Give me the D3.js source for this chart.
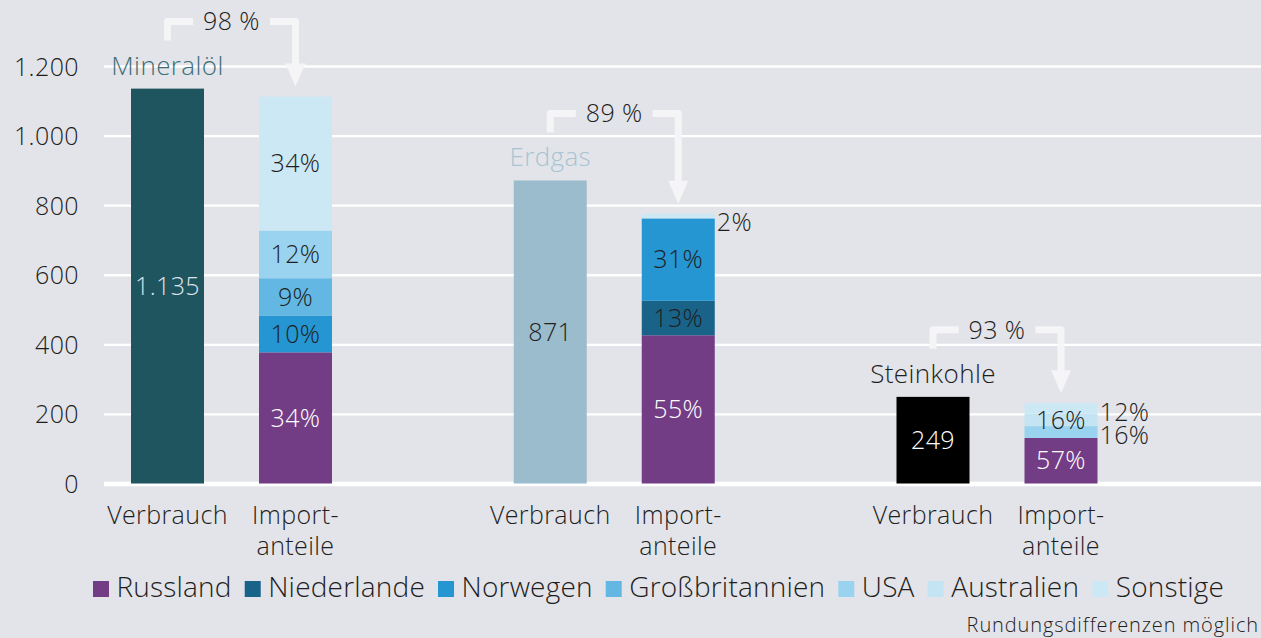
<!DOCTYPE html>
<html>
<head>
<meta charset="utf-8">
<script src="https://cdn.jsdelivr.net/npm/d3@7/dist/d3.min.js"></script>
<style>
  body { margin: 0; background: #e3e4e9; }
  svg { display: block; font-family: "Open Sans", "Lato", sans-serif; font-weight: 300; letter-spacing: 0.4px; }
</style>
</head>
<body>
<div id="chart"></div>
<script>
// Energy categories and their consumption (Verbrauch)
var categories = ["Mineralöl", "Erdgas", "Steinkohle"];
var verbrauch = [1135, 871, 249];
var importShare = ["98 %", "89 %", "93 %"];
var subLabels = ["Verbrauch", "Import-\nanteile"];

// Import origin countries
var countries = ["Russland", "Niederlande", "Norwegen", "Großbritannien", "USA", "Australien", "Sonstige"];
var countryColors = ["#733d86", "#196389", "#2596d2", "#62b8e3", "#9ad3ef", "#c4e4f3", "#cde8f5"];

// Import amounts per country, same order as countries
var importOel = [377, 0, 106, 107, 137, 0, 385];
var importGas = [426, 99, 237, 0, 0, 0, 13];
var importKohle = [131, 0, 0, 0, 34, 36, 30];

// Percent labels per segment
var labelsOel = ["34%", "", "10%", "9%", "12%", "", "34%"];
var labelsGas = ["55%", "13%", "31%", "", "", "", "2%"];
var labelsKohle = ["57%", "", "", "", "16%", "16%", "12%"];

// segments whose label sits right of the bar: [category index, country index]
var outsideLabels = [[1, 6], [2, 4], [2, 6]];

var yTicks = [0, 200, 400, 600, 800, 1000, 1200];

var width = 1261, height = 638;

var catColors = ["#1e555e", "#9bbccc", "#000000"];
var catTitleColors = ["#3d6e75", "#a7c4d2", "#1e1e1e"];
var valueTextColors = ["#dde3ea", "#222222", "#ffffff"];
var textColor = "#1e1e1e";
var fs = "25px";

var de = d3.formatLocale({ decimal: ",", thousands: ".", grouping: [3], currency: ["", " €"] });
var fmt = de.format(",");

var svg = d3.select("#chart").append("svg")
    .attr("width", width)
    .attr("height", height);

svg.append("rect").attr("width", width).attr("height", height).attr("fill", "#e3e4e9");

var y = d3.scaleLinear().domain([0, 1200]).range([483.5, 66]);
var x0 = d3.scalePoint().domain(categories).range([231.5, 997]);
var x1 = d3.scalePoint().domain(["v", "i"]).range([-64, 64]);
var barW = 73;

// y axis with gridlines
var axisX = 104;
var yAxis = svg.append("g")
    .attr("transform", "translate(" + axisX + ",0)")
    .call(d3.axisLeft(y).tickValues(yTicks).tickFormat(fmt)
      .tickSize(-(width - axisX)).tickPadding(25));
yAxis.attr("font-family", null).attr("font-size", null);
yAxis.select(".domain").remove();
yAxis.selectAll(".tick line")
    .attr("stroke", "#ffffff")
    .attr("stroke-width", function(d) { return d === 0 ? 4.5 : 2.3; });
yAxis.selectAll(".tick text")
    .attr("fill", textColor)
    .style("font-size", fs)
    .attr("dy", "0.36em");

var imports = [importOel, importGas, importKohle];
var labels = [labelsOel, labelsGas, labelsKohle];

function isOutside(ci, k) {
  return outsideLabels.some(function(p) { return p[0] === ci && p[1] === k; });
}

categories.forEach(function(cat, ci) {
  var cx = x0(cat);
  var vx = cx + x1("v");
  var ix = cx + x1("i");
  var g = svg.append("g");

  // Verbrauch bar
  g.append("rect")
      .attr("x", vx - barW / 2)
      .attr("y", y(verbrauch[ci]))
      .attr("width", barW)
      .attr("height", y(0) - y(verbrauch[ci]))
      .attr("fill", catColors[ci]);

  g.append("text")
      .attr("x", vx)
      .attr("y", (y(0) + y(verbrauch[ci])) / 2)
      .attr("dy", "0.35em")
      .attr("text-anchor", "middle")
      .attr("fill", valueTextColors[ci])
      .style("font-size", fs)
      .text(fmt(verbrauch[ci]));

  // category title above bar
  g.append("text")
      .attr("x", vx)
      .attr("y", y(verbrauch[ci]) - 14)
      .attr("text-anchor", "middle")
      .attr("fill", catTitleColors[ci])
      .style("font-size", "26px")
      .text(cat);

  // stacked import bar
  var segs = [];
  var acc = 0;
  imports[ci].forEach(function(v, k) {
    segs.push({ k: k, y0: acc, y1: acc + v, label: labels[ci][k] });
    acc += v;
  });
  var total = acc;

  g.selectAll("rect.seg")
      .data(segs.filter(function(s) { return s.y1 > s.y0; }))
      .enter().append("rect")
      .attr("class", "seg")
      .attr("x", ix - barW / 2)
      .attr("y", function(s) { return y(s.y1); })
      .attr("width", barW)
      .attr("height", function(s) { return y(s.y0) - y(s.y1); })
      .attr("fill", function(s) { return countryColors[s.k]; });

  segs.forEach(function(s) {
    if (!s.label) return;
    var outside = isOutside(ci, s.k);
    g.append("text")
        .attr("x", outside ? ix + barW / 2 + 2 : ix)
        .attr("y", outside ? y(s.y1) + 17.5 : (y(s.y0) + y(s.y1)) / 2)
        .attr("dy", outside ? 0 : "0.35em")
        .attr("text-anchor", outside ? "start" : "middle")
        .attr("fill", s.k === 0 ? "#ffffff" : textColor)
        .style("font-size", fs)
        .text(s.label);
  });

  // bracket arrow from consumption to imports
  var topY = y(verbrauch[ci]) - 67;
  var leftEnd = y(verbrauch[ci]) - 48;
  var tipY = y(total) - 10;
  var headH = 23, headW = 10;
  var mid = (vx + ix) / 2;

  var t = g.append("text")
      .attr("x", mid)
      .attr("y", topY)
      .attr("dy", "0.35em")
      .attr("text-anchor", "middle")
      .attr("fill", textColor)
      .style("font-size", fs)
      .text(importShare[ci]);
  var tw = t.node().getComputedTextLength();
  var gap = 10;

  g.append("path")
      .attr("d", "M" + vx + "," + leftEnd + "V" + topY + "H" + (mid - tw / 2 - gap))
      .attr("fill", "none")
      .attr("stroke", "#f5f5f8")
      .attr("stroke-width", 7)
      .attr("stroke-linejoin", "round");
  g.append("path")
      .attr("d", "M" + (mid + tw / 2 + gap) + "," + topY + "H" + ix + "V" + (tipY - headH + 1))
      .attr("fill", "none")
      .attr("stroke", "#f5f5f8")
      .attr("stroke-width", 7)
      .attr("stroke-linejoin", "round");
  g.append("path")
      .attr("d", "M" + (ix - headW) + "," + (tipY - headH) + "L" + (ix + headW) + "," + (tipY - headH) + "L" + ix + "," + tipY + "Z")
      .attr("fill", "#f5f5f8");

  // x labels under bars
  g.append("text")
      .attr("x", vx)
      .attr("y", 524)
      .attr("text-anchor", "middle")
      .attr("fill", textColor)
      .style("font-size", fs)
      .text(subLabels[0]);
  subLabels[1].split("\n").forEach(function(line, li) {
    g.append("text")
        .attr("x", ix)
        .attr("y", 524 + li * 31)
        .attr("text-anchor", "middle")
        .attr("fill", textColor)
        .style("font-size", fs)
        .text(line);
  });
});

// legend
var legend = svg.append("g").attr("transform", "translate(93,581)");
var lx = 0;
countries.forEach(function(name, k) {
  var item = legend.append("g").attr("transform", "translate(" + lx + ",0)");
  item.append("rect")
      .attr("width", 16)
      .attr("height", 16)
      .attr("fill", countryColors[k]);
  var txt = item.append("text")
      .attr("x", 23.5)
      .attr("y", 15.5)
      .attr("fill", textColor)
      .style("font-size", "28px")
      .style("letter-spacing", "0.2px")
      .text(name);
  lx += 23.5 + txt.node().getComputedTextLength() + 13;
});

svg.append("text")
    .attr("x", 1259)
    .attr("y", 632)
    .attr("text-anchor", "end")
    .attr("fill", textColor)
    .style("font-size", "20px")
    .style("letter-spacing", "0.9px")
    .text("Rundungsdifferenzen möglich");
</script>
</body>
</html>
